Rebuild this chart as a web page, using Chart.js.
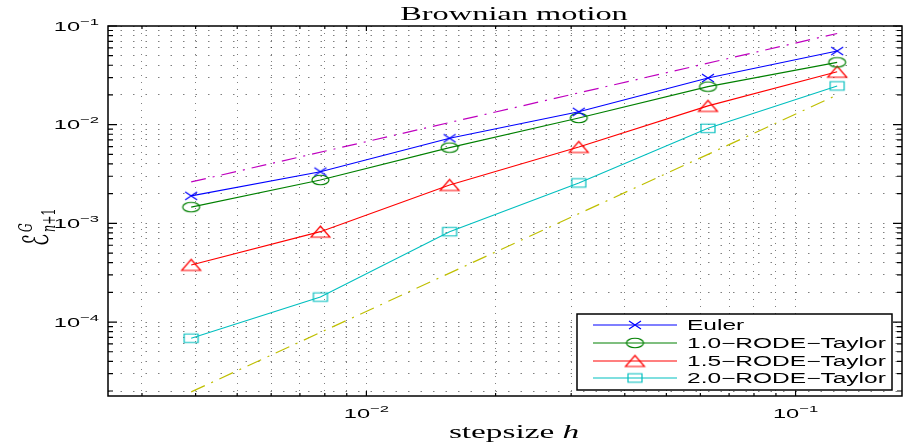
<!DOCTYPE html>
<html>
<head>
<meta charset="utf-8">
<script src="https://cdn.jsdelivr.net/npm/chart.js@4"></script>
<style>
  html, body { margin: 0; padding: 0; background: #fff; }
  #wrap { width: 906px; height: 446px; }
</style>
</head>
<body>
<div id="wrap"><canvas id="errChart" width="906" height="446"></canvas></div>
<script>
// stepsizes h = 2^-8 ... 2^-3
var stepsizes = [0.00390625, 0.0078125, 0.015625, 0.03125, 0.0625, 0.125];
var eulerErr  = [1.90e-3, 3.34e-3, 7.28e-3, 1.35e-2, 2.97e-2, 5.58e-2];
var rode10Err = [1.46e-3, 2.75e-3, 5.85e-3, 1.17e-2, 2.43e-2, 4.28e-2];
var rode15Err = [3.79e-4, 8.24e-4, 2.45e-3, 5.94e-3, 1.55e-2, 3.44e-2];
var rode20Err = [6.85e-5, 1.79e-4, 8.24e-4, 2.57e-3, 9.18e-3, 2.47e-2];

// slope reference lines (end points)
var refX      = [0.00390625, 0.125];
var refOrder1 = [2.63e-3, 8.4e-2];
var refOrder2 = [1.96e-5, 2.0e-2];

var seriesNames = ['Euler', '1.0\u2212RODE\u2212Taylor', '1.5\u2212RODE\u2212Taylor', '2.0\u2212RODE\u2212Taylor'];

// axes
var xMin = 0.0025, xMax = 0.177;
var yMin = 1.78e-5, yMax = 0.1;
var xGridVals = [0.003, 0.004, 0.005, 0.006, 0.007, 0.008, 0.009, 0.01,
                 0.02, 0.03, 0.04, 0.05, 0.06, 0.07, 0.08, 0.09, 0.1];
var yGridVals = [2e-5, 3e-5, 4e-5, 5e-5, 6e-5, 7e-5, 8e-5, 9e-5,
                 1e-4, 2e-4, 3e-4, 4e-4, 5e-4, 6e-4, 7e-4, 8e-4, 9e-4,
                 1e-3, 2e-3, 3e-3, 4e-3, 5e-3, 6e-3, 7e-3, 8e-3, 9e-3,
                 1e-2, 2e-2, 3e-2, 4e-2, 5e-2, 6e-2, 7e-2, 8e-2, 9e-2, 1e-1];
var xTickVals = [0.01, 0.1];
var xTickExp  = ['\u22122', '\u22121'];
var yTickVals = [1e-4, 1e-3, 1e-2, 1e-1];
var yTickExp  = ['\u22124', '\u22123', '\u22122', '\u22121'];

// the original figure is stretched sideways
var SX = 1.75;

function makeMarker(shape, color, w, h) {
  var c = document.createElement('canvas');
  c.width = Math.ceil(w) + 4;
  c.height = Math.ceil(h) + 4;
  var g = c.getContext('2d');
  var cx = c.width / 2, cy = c.height / 2;
  g.strokeStyle = color;
  g.lineWidth = 1.2;
  g.beginPath();
  if (shape == 'cross') {
    g.moveTo(cx - w/2, cy - h/2); g.lineTo(cx + w/2, cy + h/2);
    g.moveTo(cx + w/2, cy - h/2); g.lineTo(cx - w/2, cy + h/2);
  } else if (shape == 'circle') {
    g.ellipse(cx, cy, w/2, h/2, 0, 0, Math.PI * 2);
  } else if (shape == 'triangle') {
    g.moveTo(cx, cy - h/2); g.lineTo(cx + w/2, cy + h/2); g.lineTo(cx - w/2, cy + h/2);
    g.closePath();
  } else {
    g.rect(cx - w/2, cy - h/2, w, h);
  }
  g.stroke();
  return c;
}

function pts(xs, ys) {
  var out = [];
  for (var i in xs) out.push({x: xs[i], y: ys[i]});
  return out;
}

var colors = ['#0000ff', '#008000', '#ff0000', '#00bfbf'];
var markers = [
  makeMarker('cross', colors[0], 12, 8),
  makeMarker('circle', colors[1], 17, 9.5),
  makeMarker('triangle', colors[2], 19, 11),
  makeMarker('square', colors[3], 14, 8.5)
];
var errs = [eulerErr, rode10Err, rode15Err, rode20Err];

var datasets = [];
for (var k = 0; k < 4; k++) {
  datasets.push({
    label: seriesNames[k],
    data: pts(stepsizes, errs[k]),
    borderColor: colors[k],
    borderWidth: 1.1,
    pointStyle: markers[k],
    pointRadius: 5,
    pointHoverRadius: 5,
    fill: false,
    tension: 0
  });
}
datasets.push({
  label: 'order 1',
  data: pts(refX, refOrder1),
  borderColor: '#bf00bf',
  borderWidth: 1.2,
  borderDash: [15, 7, 2, 7],
  pointRadius: 0,
  fill: false
});
datasets.push({
  label: 'order 2',
  data: pts(refX, refOrder2),
  borderColor: '#bfbf00',
  borderWidth: 1.2,
  borderDash: [15, 7, 2, 7],
  pointRadius: 0,
  fill: false
});

// stretched text helper
function sText(ctx, str, x, y, font, align) {
  ctx.font = font;
  var w = ctx.measureText(str).width * SX;
  var left = align == 'center' ? x - w / 2 : (align == 'right' ? x - w : x);
  ctx.save();
  ctx.translate(left, y);
  ctx.scale(SX, 1);
  ctx.textAlign = 'left';
  ctx.textBaseline = 'alphabetic';
  ctx.fillText(str, 0, 0);
  ctx.restore();
  return w;
}

function powLabel(ctx, exp, x, yMid, align) {
  var fb = '13.5px "Liberation Sans"', fe = '9.5px "Liberation Sans"';
  ctx.font = fb; var wb = ctx.measureText('10').width * SX;
  ctx.font = fe; var we = ctx.measureText(exp).width * SX;
  var tot = wb + we;
  var left = align == 'center' ? x - tot / 2 : (align == 'right' ? x - tot : x);
  var base = yMid + 4.8;
  sText(ctx, '10', left, base, fb, 'left');
  sText(ctx, exp, left + wb, base - 6, fe, 'left');
}

var decor = {
  id: 'decor',
  afterDraw: function(chart) {
    var ctx = chart.ctx, a = chart.chartArea;
    var xs = chart.scales.x, ys = chart.scales.y;
    ctx.save();
    ctx.fillStyle = '#000';
    ctx.strokeStyle = '#000';

    // box
    ctx.lineWidth = 1.5;
    ctx.strokeRect(a.left, a.top, a.right - a.left, a.bottom - a.top);

    // inside ticks
    ctx.lineWidth = 1.2;
    ctx.beginPath();
    xGridVals.forEach(function(v) {
      var px = xs.getPixelForValue(v);
      var major = Math.abs(Math.log10(v) - Math.round(Math.log10(v))) < 1e-9;
      var len = major ? 5 : 3;
      ctx.moveTo(px, a.bottom); ctx.lineTo(px, a.bottom - len);
      ctx.moveTo(px, a.top); ctx.lineTo(px, a.top + len);
    });
    yGridVals.forEach(function(v) {
      var py = ys.getPixelForValue(v);
      var major = Math.abs(Math.log10(v) - Math.round(Math.log10(v))) < 1e-9;
      var len = major ? 9 : 5;
      ctx.moveTo(a.left, py); ctx.lineTo(a.left + len, py);
      ctx.moveTo(a.right, py); ctx.lineTo(a.right - len, py);
    });
    ctx.stroke();

    // tick labels
    yTickVals.forEach(function(v, i) {
      powLabel(ctx, yTickExp[i], 99, ys.getPixelForValue(v), 'right');
    });
    xTickVals.forEach(function(v, i) {
      powLabel(ctx, xTickExp[i], xs.getPixelForValue(v), 413, 'center');
    });

    // title and x label
    sText(ctx, 'Brownian motion', 514, 19.5, '18.5px "Liberation Serif"', 'center');
    var f1 = '19px "Liberation Serif"', f2 = 'italic 19px "Liberation Serif"';
    ctx.font = f1; var w1 = ctx.measureText('stepsize ').width * SX;
    ctx.font = f2; var w2 = ctx.measureText('h').width * SX;
    var lx = 514 - (w1 + w2) / 2;
    sText(ctx, 'stepsize ', lx, 438, f1, 'left');
    sText(ctx, 'h', lx + w1, 438, f2, 'left');

    // y label, rotated (script E with G above and n+1 below)
    ctx.save();
    ctx.translate(48, 246);
    ctx.rotate(-Math.PI / 2);
    ctx.scale(1, SX);
    ctx.textBaseline = 'alphabetic';
    ctx.font = '20px "DejaVu Serif", "DejaVu Sans"';
    ctx.fillText('\u2130', 0, 0);
    var we = ctx.measureText('\u2130').width + 2;
    ctx.font = 'italic 11px "DejaVu Serif"';
    ctx.fillText('G', we, -9);
    ctx.fillText('n', we, 4);
    var wn = ctx.measureText('n').width;
    ctx.font = '11px "DejaVu Serif"';
    ctx.fillText('+1', we + wn, 4);
    ctx.restore();

    // legend
    var lb = {l: 577, t: 314, r: 892, b: 390};
    ctx.fillStyle = '#fff';
    ctx.fillRect(lb.l, lb.t, lb.r - lb.l, lb.b - lb.t);
    ctx.lineWidth = 1.5;
    ctx.strokeStyle = '#000';
    ctx.strokeRect(lb.l, lb.t, lb.r - lb.l, lb.b - lb.t);
    var rows = [325, 343, 361, 378];
    for (var k = 0; k < 4; k++) {
      var ds = chart.data.datasets[k];
      ctx.strokeStyle = ds.borderColor;
      ctx.lineWidth = 1.1;
      ctx.beginPath();
      ctx.moveTo(593, rows[k]); ctx.lineTo(677, rows[k]);
      ctx.stroke();
      var m = ds.pointStyle;
      ctx.drawImage(m, 635 - m.width / 2, rows[k] - m.height / 2);
      ctx.fillStyle = '#000';
      sText(ctx, ds.label, 687, rows[k] + 5, '14px "Liberation Sans"', 'left');
    }
    ctx.restore();
  }
};

var ctx = document.getElementById('errChart');
var errChart = new Chart(ctx, {
  type: 'line',
  data: { datasets: datasets },
  options: {
    responsive: false,
    devicePixelRatio: 1,
    animation: false,
    layout: { padding: { left: 108, top: 26, right: 4, bottom: 50 }, autoPadding: false },
    plugins: { legend: { display: false }, title: { display: false }, tooltip: { enabled: false } },
    scales: {
      x: {
        type: 'logarithmic', min: xMin, max: xMax,
        ticks: { display: false },
        grid: { color: 'rgba(0,0,0,0.5)', lineWidth: 1, drawTicks: false },
        border: { display: false, dash: [1, 6] },
        afterBuildTicks: function(s) { s.ticks = xGridVals.map(function(v) { return {value: v}; }); }
      },
      y: {
        type: 'logarithmic', min: yMin, max: yMax,
        ticks: { display: false },
        grid: { color: 'rgba(0,0,0,0.5)', lineWidth: 1, drawTicks: false },
        border: { display: false, dash: [1.5, 11] },
        afterBuildTicks: function(s) { s.ticks = yGridVals.map(function(v) { return {value: v}; }); }
      }
    }
  },
  plugins: [decor]
});
</script>
</body>
</html>
